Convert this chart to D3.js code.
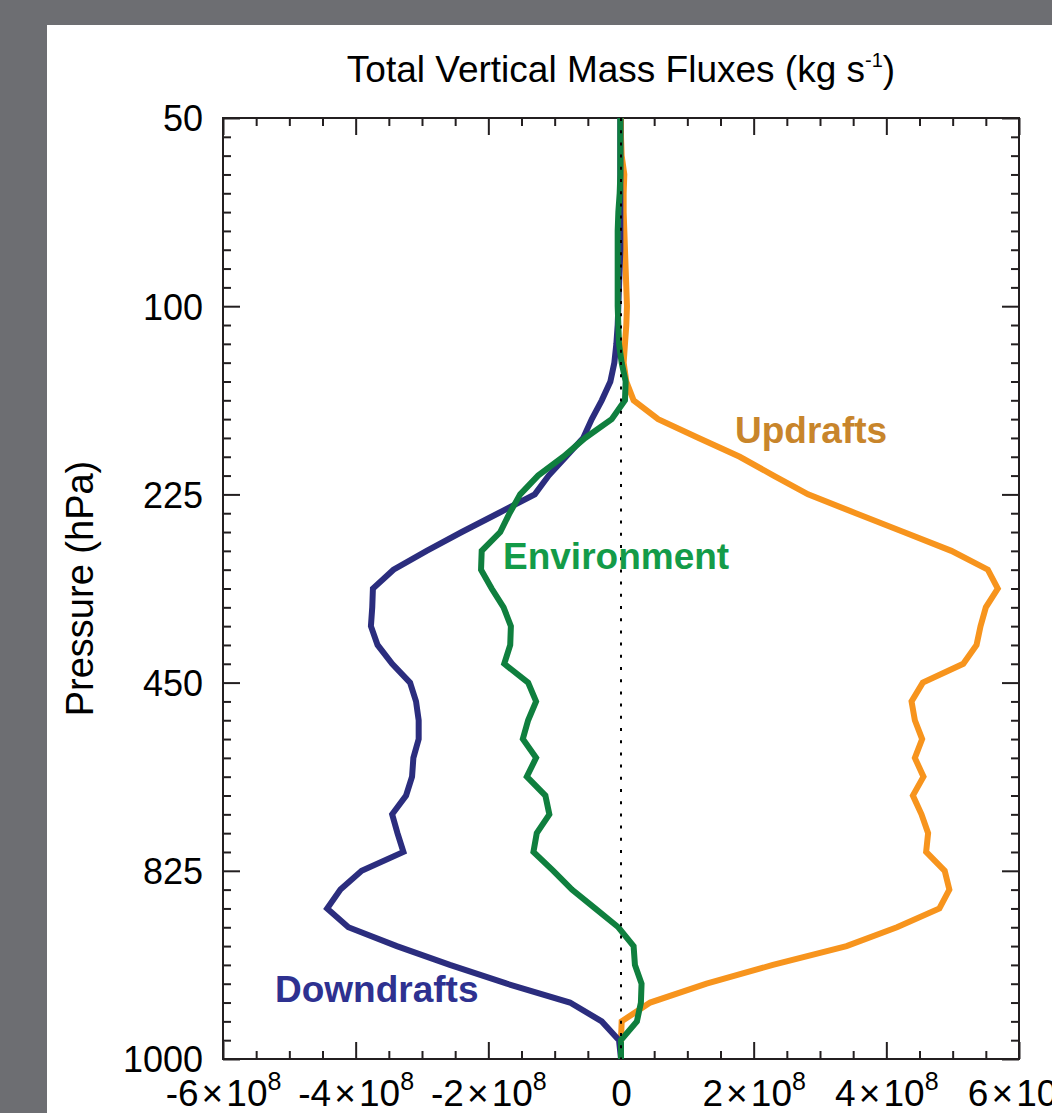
<!DOCTYPE html>
<html>
<head>
<meta charset="utf-8">
<style>
  body { margin: 0; background: #6d6e72; }
  svg { display: block; }
  text { font-family: "Liberation Sans", Arial, Helvetica, sans-serif; }
  .axis .domain { display: none; }
  .axis line { stroke: #231f20; stroke-width: 2; }
</style>
</head>
<body>
<svg id="chart" width="1052" height="1113"></svg>
<script src="https://cdn.jsdelivr.net/npm/d3@7"></script>
<script>
// pressure labels for every 10th model level (level 0 = 50 hPa at top)
var pressureTicks = [0, 10, 20, 30, 40, 50];
var pressureLabels = ["50", "100", "225", "450", "825", "1000"];
var fluxTicks = [-6, -4, -2, 0, 2, 4, 6];   // units of 1e8 kg s-1

// mass flux per level, units of 1e8 kg s-1, level 0..50
var updrafts = [0.00, 0.00, 0.01, 0.05, 0.04, 0.04, 0.05, 0.06, 0.07, 0.08,
  0.09, 0.08, 0.06, 0.04, 0.08, 0.19, 0.56, 1.17, 1.79, 2.30,
  2.82, 3.54, 4.26, 4.98, 5.53, 5.68, 5.50, 5.42, 5.36, 5.16,
  4.55, 4.38, 4.43, 4.54, 4.43, 4.56, 4.40, 4.53, 4.63, 4.60,
  4.88, 4.95, 4.80, 4.16, 3.40, 2.29, 1.29, 0.44, 0.01, 0.00, 0.00];
var downdrafts = [-0.01, -0.01, -0.01, -0.01, -0.01, -0.01, -0.01, -0.01, -0.02, -0.03,
  -0.04, -0.05, -0.07, -0.10, -0.16, -0.29, -0.44, -0.57, -0.83, -1.09,
  -1.30, -1.85, -2.40, -2.93, -3.43, -3.74, -3.75, -3.77, -3.67, -3.45,
  -3.18, -3.09, -3.05, -3.05, -3.13, -3.15, -3.24, -3.45, -3.37, -3.28,
  -3.91, -4.23, -4.43, -4.11, -3.38, -2.58, -1.72, -0.77, -0.29, -0.03, 0.00];
var environment = [-0.01, -0.01, -0.01, -0.01, -0.02, -0.04, -0.05, -0.05, -0.05, -0.05,
  -0.05, -0.04, -0.03, 0.01, 0.07, 0.06, -0.14, -0.54, -0.87, -1.25,
  -1.52, -1.68, -1.82, -2.10, -2.11, -1.95, -1.77, -1.66, -1.67, -1.76,
  -1.40, -1.28, -1.40, -1.48, -1.28, -1.42, -1.14, -1.08, -1.27, -1.32,
  -1.02, -0.74, -0.39, -0.04, 0.19, 0.21, 0.31, 0.30, 0.24, 0.00, 0.00];

var svg = d3.select("#chart"),
    margin = {top: 118, right: 33, bottom: 54, left: 223},
    width = +svg.attr("width") - margin.left - margin.right,
    height = +svg.attr("height") - margin.top - margin.bottom;

// white page panel
svg.append("rect").attr("x", 47).attr("y", 25)
    .attr("width", 1052 - 47).attr("height", 1113 - 25).attr("fill", "#fff");

var g = svg.append("g").attr("transform", "translate(" + margin.left + "," + margin.top + ")");

var x = d3.scaleLinear().domain([-6, 6]).range([0, width]);
var y = d3.scaleLinear().domain([0, 50]).range([0, height]);

var minorX = d3.range(-6, 6.01, 0.5).filter(function(v) { return fluxTicks.indexOf(v) < 0; });
var minorY = d3.range(0, 51).filter(function(v) { return pressureTicks.indexOf(v) < 0; });

function addTicks(axisFn, scale, major, minor, transform) {
  g.append("g").attr("class", "axis").attr("transform", transform)
      .call(axisFn(scale).tickValues(minor).tickSize(-8).tickSizeOuter(0).tickFormat(""));
  return g.append("g").attr("class", "axis").attr("transform", transform)
      .call(axisFn(scale).tickValues(major).tickSize(-17).tickSizeOuter(0).tickFormat(""));
}

var xb = addTicks(d3.axisBottom, x, fluxTicks, minorX, "translate(0," + height + ")");
addTicks(d3.axisTop, x, fluxTicks, minorX, "translate(0,0)");
var yl = addTicks(d3.axisLeft, y, pressureTicks, minorY, "translate(0,0)");
addTicks(d3.axisRight, y, pressureTicks, minorY, "translate(" + width + ",0)");

// x labels like -6x10^8
xb.selectAll(".tick").append("text")
    .attr("y", 47).attr("fill", "#000").attr("font-size", 37)
    .attr("text-anchor", "middle")
    .each(function(d) {
      var t = d3.select(this);
      if (d === 0) { t.text("0"); return; }
      t.append("tspan").text(d + "\u200a\u00d7\u200a10");
      t.append("tspan").attr("dy", -16).attr("font-size", 25).text("8");
    });

yl.selectAll(".tick").append("text")
    .attr("x", -20).attr("dy", "0.36em").attr("fill", "#000")
    .attr("font-size", 36).attr("text-anchor", "end")
    .text(function(d, i) { return pressureLabels[i]; });

// frame
g.append("rect").attr("width", width).attr("height", height)
    .attr("fill", "none").attr("stroke", "#231f20").attr("stroke-width", 2);

var line = d3.line()
    .x(function(d) { return x(d); })
    .y(function(d, i) { return y(i); });

var series = [
  {values: updrafts, color: "#f7941d"},
  {values: downdrafts, color: "#2b2d7e"},
  {values: environment, color: "#0f7f3e"}
];

g.selectAll("path.flux")
  .data(series)
  .enter().append("path")
    .attr("class", "flux")
    .attr("d", function(d) { return line(d.values); })
    .attr("fill", "none")
    .attr("stroke", function(d) { return d.color; })
    .attr("stroke-width", 6)
    .attr("stroke-linejoin", "miter");

// zero line
g.append("line")
    .attr("x1", x(0)).attr("x2", x(0)).attr("y1", 0).attr("y2", height)
    .attr("stroke", "#000").attr("stroke-width", 2)
    .attr("stroke-dasharray", "3,9.2");

// labels
g.append("text").attr("x", 735 - margin.left).attr("y", 443 - margin.top)
    .attr("font-size", 37).attr("font-weight", "bold").attr("fill", "#c8852b")
    .text("Updrafts");
g.append("text").attr("x", 503 - margin.left).attr("y", 569 - margin.top)
    .attr("font-size", 37).attr("font-weight", "bold").attr("fill", "#139b48")
    .text("Environment");
g.append("text").attr("x", 275 - margin.left).attr("y", 1002 - margin.top)
    .attr("font-size", 37).attr("font-weight", "bold").attr("fill", "#2e3190")
    .text("Downdrafts");

// title
var title = svg.append("text").attr("x", margin.left + width / 2).attr("y", 82)
    .attr("text-anchor", "middle").attr("font-size", 37).attr("fill", "#000");
title.append("tspan").text("Total Vertical Mass Fluxes (kg s");
title.append("tspan").attr("dy", -15).attr("font-size", 20).text("-1");
title.append("tspan").attr("dy", 15).text(")");

// y axis title
svg.append("text")
    .attr("transform", "translate(93," + (margin.top + height / 2) + ") rotate(-90)")
    .attr("text-anchor", "middle").attr("font-size", 38).attr("fill", "#000")
    .text("Pressure (hPa)");
</script>
</body>
</html>
